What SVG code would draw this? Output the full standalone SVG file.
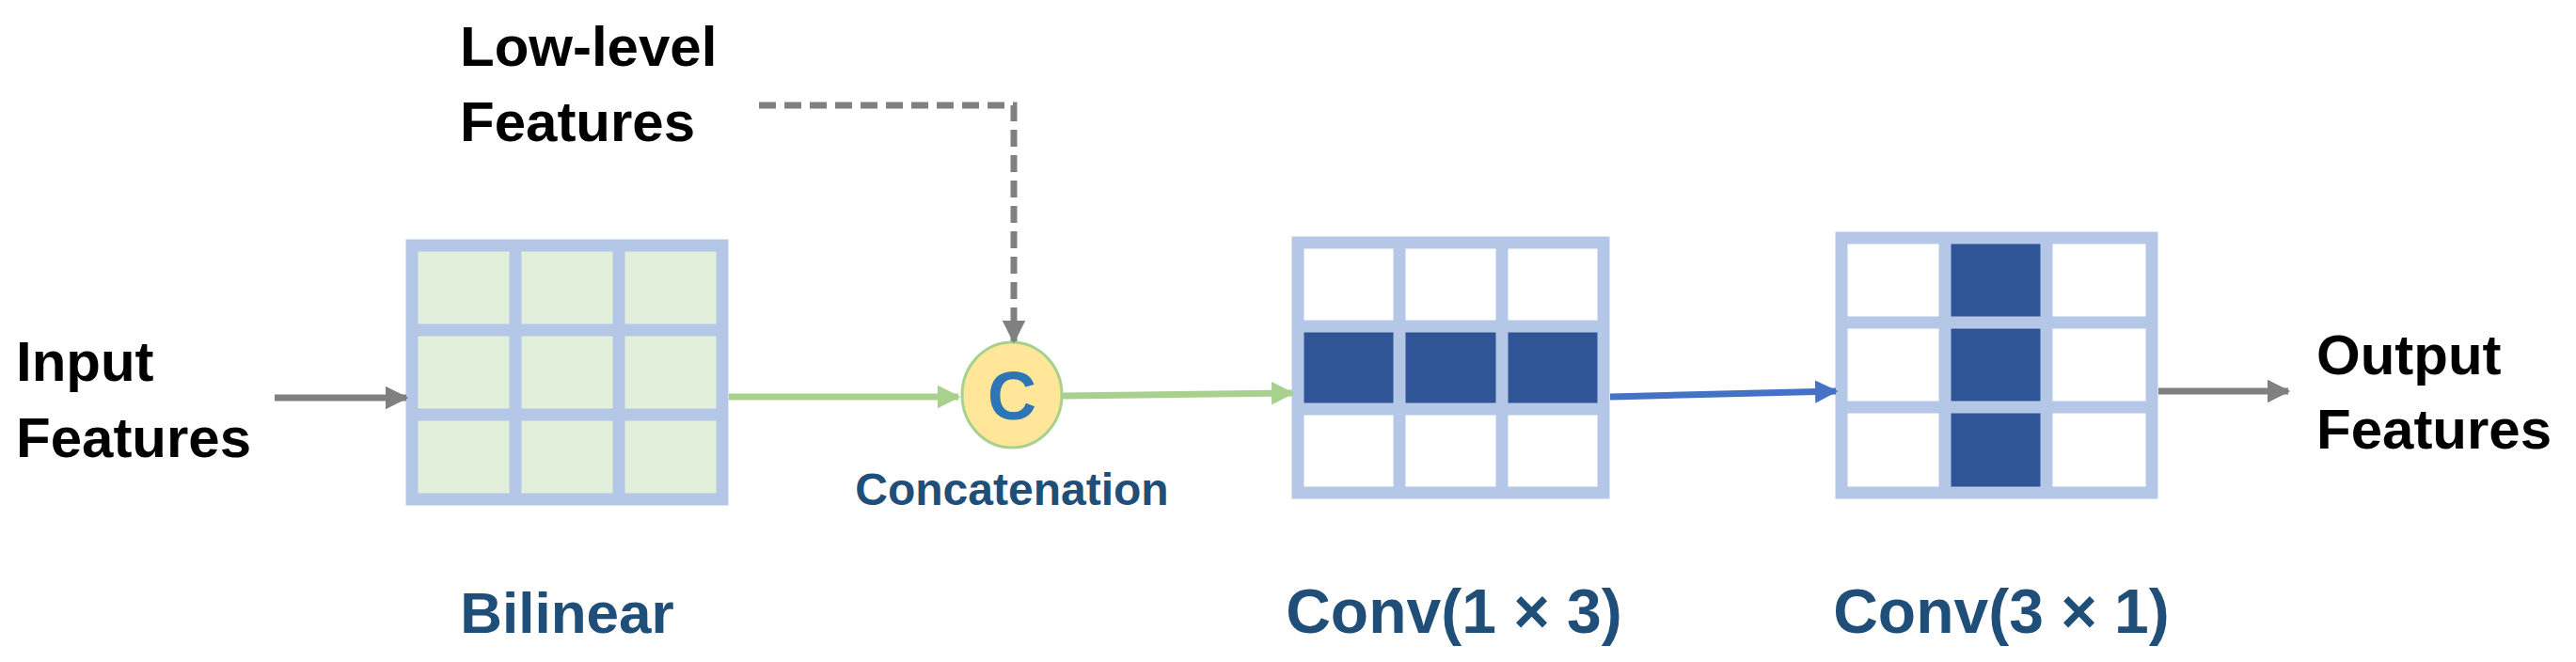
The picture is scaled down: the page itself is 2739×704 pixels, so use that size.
<svg xmlns="http://www.w3.org/2000/svg" width="2739" height="704" viewBox="0 0 2739 704">
<style>
.lbl{font-family:"Liberation Sans",Arial,sans-serif;font-weight:bold;font-size:60px;fill:#000}
.blue{font-family:"Liberation Sans",Arial,sans-serif;font-weight:bold;fill:#1F4E79;text-anchor:middle}
.grid{stroke:#B4C7E7;stroke-width:13;fill:none}
.dark{fill:#2F5597}
</style>
<defs>
<marker id="ag" viewBox="0 0 10 10" refX="9" refY="5" markerWidth="3.5" markerHeight="3.5" markerUnits="strokeWidth" orient="auto"><path d="M0,0L10,5L0,10z" fill="#808080"/></marker>
<marker id="agr" viewBox="0 0 10 10" refX="9" refY="5" markerWidth="3.5" markerHeight="3.5" markerUnits="strokeWidth" orient="auto"><path d="M0,0L10,5L0,10z" fill="#A9D18E"/></marker>
<marker id="ab" viewBox="0 0 10 10" refX="9" refY="5" markerWidth="3.5" markerHeight="3.5" markerUnits="strokeWidth" orient="auto"><path d="M0,0L10,5L0,10z" fill="#4472C4"/></marker>
</defs>
<g id="input"><text class="lbl" x="17" y="405">Input</text><text class="lbl" x="17" y="486">Features</text></g>
<g id="lowlevel"><text class="lbl" x="489" y="70">Low-level</text><text class="lbl" x="489" y="150">Features</text></g>
<g id="output"><text class="lbl" x="2463" y="398">Output</text><text class="lbl" x="2463" y="477">Features</text></g>
<g id="bilinear">
<rect x="438" y="261" width="330" height="270" fill="#E2EFDA"/>
<path class="grid" d="M438,261H768V531H438Z M548,261V531 M658,261V531 M438,351H768 M438,441H768"/>
<text class="blue" x="603" y="673" font-size="62">Bilinear</text>
</g>
<g id="concat">
<ellipse cx="1076" cy="420" rx="53" ry="56" fill="#FFE699" stroke="#A9D18E" stroke-width="3"/>
<text class="blue" x="1076" y="446" font-size="72" style="fill:#2E75B6">C</text>
<text class="blue" x="1076" y="537" font-size="48">Concatenation</text>
</g>
<g id="conv13">
<rect x="1380" y="258" width="325" height="266" fill="#fff"/>
<rect class="dark" x="1380" y="347" width="325" height="88"/>
<path class="grid" d="M1380,258H1705V524H1380Z M1488,258V524 M1597,258V524 M1380,347H1705 M1380,435H1705"/>
<text class="blue" x="1546" y="673" font-size="66">Conv(1 × 3)</text>
</g>
<g id="conv31">
<rect x="1958" y="253" width="330" height="271" fill="#fff"/>
<rect class="dark" x="2068" y="253" width="108" height="271"/>
<path class="grid" d="M1958,253H2288V524H1958Z M2068,253V524 M2176,253V524 M1958,343H2288 M1958,433H2288"/>
<text class="blue" x="2128" y="673" font-size="66">Conv(3 × 1)</text>
</g>
<g id="connectors" fill="none">
<path d="M292,423H432" stroke="#808080" stroke-width="7" marker-end="url(#ag)"/>
<path d="M807,112H1078V363" stroke="#808080" stroke-width="7" stroke-dasharray="18,9" marker-end="url(#ag)"/>
<path d="M775,422H1019" stroke="#A9D18E" stroke-width="7" marker-end="url(#agr)"/>
<path d="M1130,421L1374,418" stroke="#A9D18E" stroke-width="7" marker-end="url(#agr)"/>
<path d="M1712,422L1952,416" stroke="#4472C4" stroke-width="7" marker-end="url(#ab)"/>
<path d="M2295,416H2433" stroke="#808080" stroke-width="7" marker-end="url(#ag)"/>
</g>
</svg>
